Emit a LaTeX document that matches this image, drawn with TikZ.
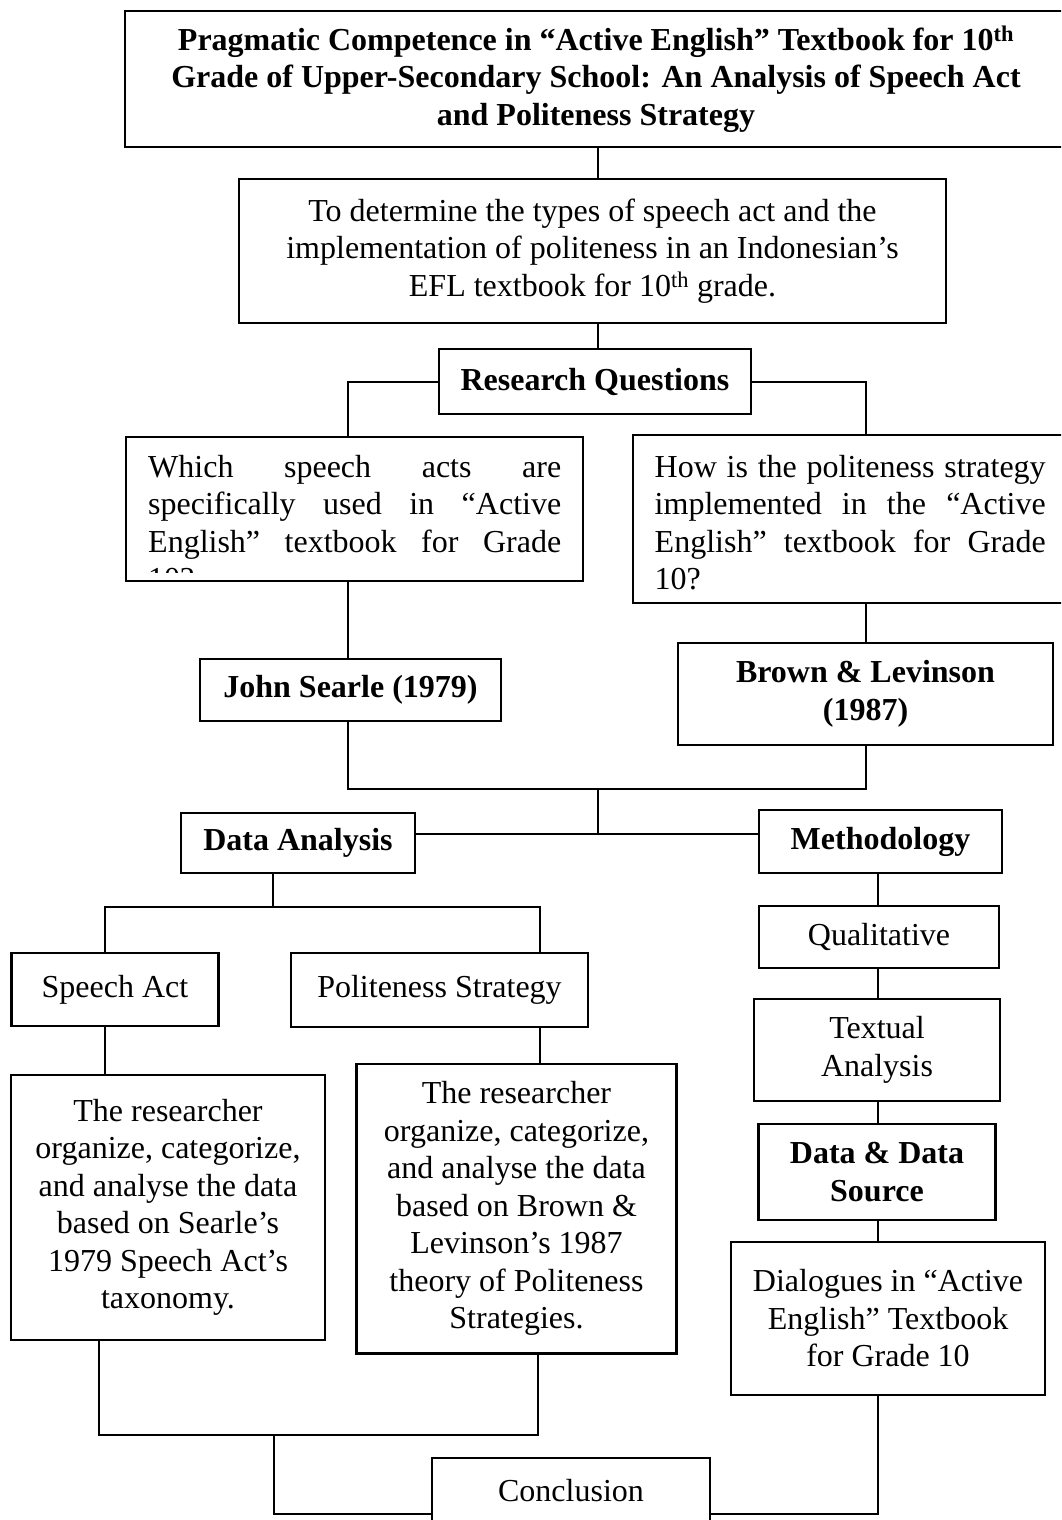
\documentclass[tikz,border=0pt]{standalone}
\usepackage{fontspec}
\setmainfont{Liberation Serif}
\newcommand\mysize{\fontsize{32}{37.5}\selectfont}
\tikzset{
  box/.style={draw, line width=2.6pt, inner sep=0pt, align=center, font=\mysize},
  conn/.style={line width=2pt},
  txt/.style={inner sep=0pt, align=left, font=\mysize, anchor=north west}
}
\begin{document}
\begin{tikzpicture}[x=1pt,y=-1pt]
\useasboundingbox (0,0) rectangle (1061,1520);
\clip (0,0) rectangle (1061,1520);
% x positions of vertical connectors
\coordinate (sp) at (598,0);
\coordinate (xL) at (348,0);
\coordinate (xR) at (866,0);
\coordinate (xA) at (105,0);
\coordinate (xB) at (540,0);
\coordinate (xM) at (877.5,0);
\coordinate (xC) at (99,0);
\coordinate (xD) at (538,0);
% boxes
\node[box, minimum width=942, minimum height=136, font=\mysize\bfseries] (title) at (596,79)
  {Pragmatic Competence in “Active English” Textbook for 10\textsuperscript{th}\\
   Grade of Upper-Secondary School: An Analysis of Speech Act\\
   and Politeness Strategy};
\node[box, minimum width=707, minimum height=144] (obj) at (592.5,251)
  {To determine the types of speech act and the\\
   implementation of politeness in an Indonesian’s\\
   EFL textbook for 10\textsuperscript{th} grade.};
\node[box, minimum width=312, minimum height=65, font=\mysize\bfseries] (rq) at (595,381.5) {Research Questions};
\node[box, minimum width=457, minimum height=144] (q1) at (354.5,509) {};
\begin{scope}
  \clip (126,437) rectangle (583,572);
  \node[txt] (q1t) at (148,455)
    {\makebox[413pt][s]{Which speech acts are}\\
     \makebox[413pt][s]{specifically used in “Active}\\
     \makebox[413pt][s]{English” textbook for Grade}\\
     10?};
\end{scope}
\node[box, minimum width=434, minimum height=168] (q2) at (850,519) {};
\node[txt] (q2t) at (654.5,455)
  {\makebox[391pt][s]{How is the politeness strategy}\\
   \makebox[391pt][s]{implemented in the “Active}\\
   \makebox[391pt][s]{English” textbook for Grade}\\
   10?};
\node[box, minimum width=301, minimum height=62, font=\mysize\bfseries] (js) at (350.5,690) {John Searle (1979)};
\node[box, minimum width=375, minimum height=102, font=\mysize\bfseries] (bl) at (865.5,694) {Brown \& Levinson\\(1987)};
\node[box, minimum width=234, minimum height=60, font=\mysize\bfseries] (da) at (298,843) {Data Analysis};
\node[box, minimum width=243, minimum height=63, font=\mysize\bfseries] (meth) at (880.5,841.5) {Methodology};
\node[box, minimum width=240, minimum height=62] (qual) at (879,937) {Qualitative};
\node[box, minimum width=207, minimum height=73] (sa) at (115,989.5) {Speech Act};
\node[box, minimum width=297, minimum height=74] (ps) at (439.5,990) {Politeness Strategy};
\node[box, minimum width=314, minimum height=265] (t1) at (168,1207.5)
  {The researcher\\organize, categorize,\\and analyse the data\\based on Searle’s\\1979 Speech Act’s\\taxonomy.};
\node[box, minimum width=320, minimum height=289.5] (t2) at (516.5,1208.75)
  {The researcher\\organize, categorize,\\and analyse the data\\based on Brown \&\\Levinson’s 1987\\theory of Politeness\\Strategies.};
\node[box, minimum width=246, minimum height=102] (ta) at (877,1050) {Textual\\Analysis};
\node[box, minimum width=237.5, minimum height=96, font=\mysize\bfseries] (dds) at (877,1172) {Data \& Data\\Source};
\node[box, minimum width=314, minimum height=153] (dlg) at (888,1318.5)
  {Dialogues in “Active\\English” Textbook\\for Grade 10};
\node[box, minimum width=278, minimum height=66] (concl) at (571,1491) {Conclusion};
% junctions
\coordinate (j1) at (598,789);
\coordinate (j2) at (598,834);
\coordinate (j3) at (273,907);
\coordinate (j4) at (274,1435);
\coordinate (j5) at (274,1514);
% connectors
\draw[conn] (title.south -| sp) -- (obj.north -| sp);
\draw[conn] (obj.south -| sp) -- (rq.north -| sp);
\draw[conn] (rq.west) -| (q1.north -| xL);
\draw[conn] (rq.east) -| (q2.north -| xR);
\draw[conn] (q1.south -| xL) -- (js.north -| xL);
\draw[conn] (q2.south -| xR) -- (bl.north -| xR);
\draw[conn] (js.south -| xL) |- (j1) -| (bl.south -| xR);
\draw[conn] (j1) -- (j2);
\draw[conn] (da.east |- j2) -- (meth.west |- j2);
\draw[conn] (da.south -| j3) -- (j3);
\draw[conn] (sa.north -| xA) |- (j3) -| (ps.north -| xB);
\draw[conn] (sa.south -| xA) -- (t1.north -| xA);
\draw[conn] (ps.south -| xB) -- (t2.north -| xB);
\draw[conn] (meth.south -| xM) -- (qual.north -| xM);
\draw[conn] (qual.south -| xM) -- (ta.north -| xM);
\draw[conn] (ta.south -| xM) -- (dds.north -| xM);
\draw[conn] (dds.south -| xM) -- (dlg.north -| xM);
\draw[conn] (t1.south -| xC) |- (j4) -| (t2.south -| xD);
\draw[conn] (j4) -- (j5) -- (concl.west |- j5);
\draw[conn] (concl.east |- j5) -| (dlg.south -| xM);
\end{tikzpicture}
\end{document}
